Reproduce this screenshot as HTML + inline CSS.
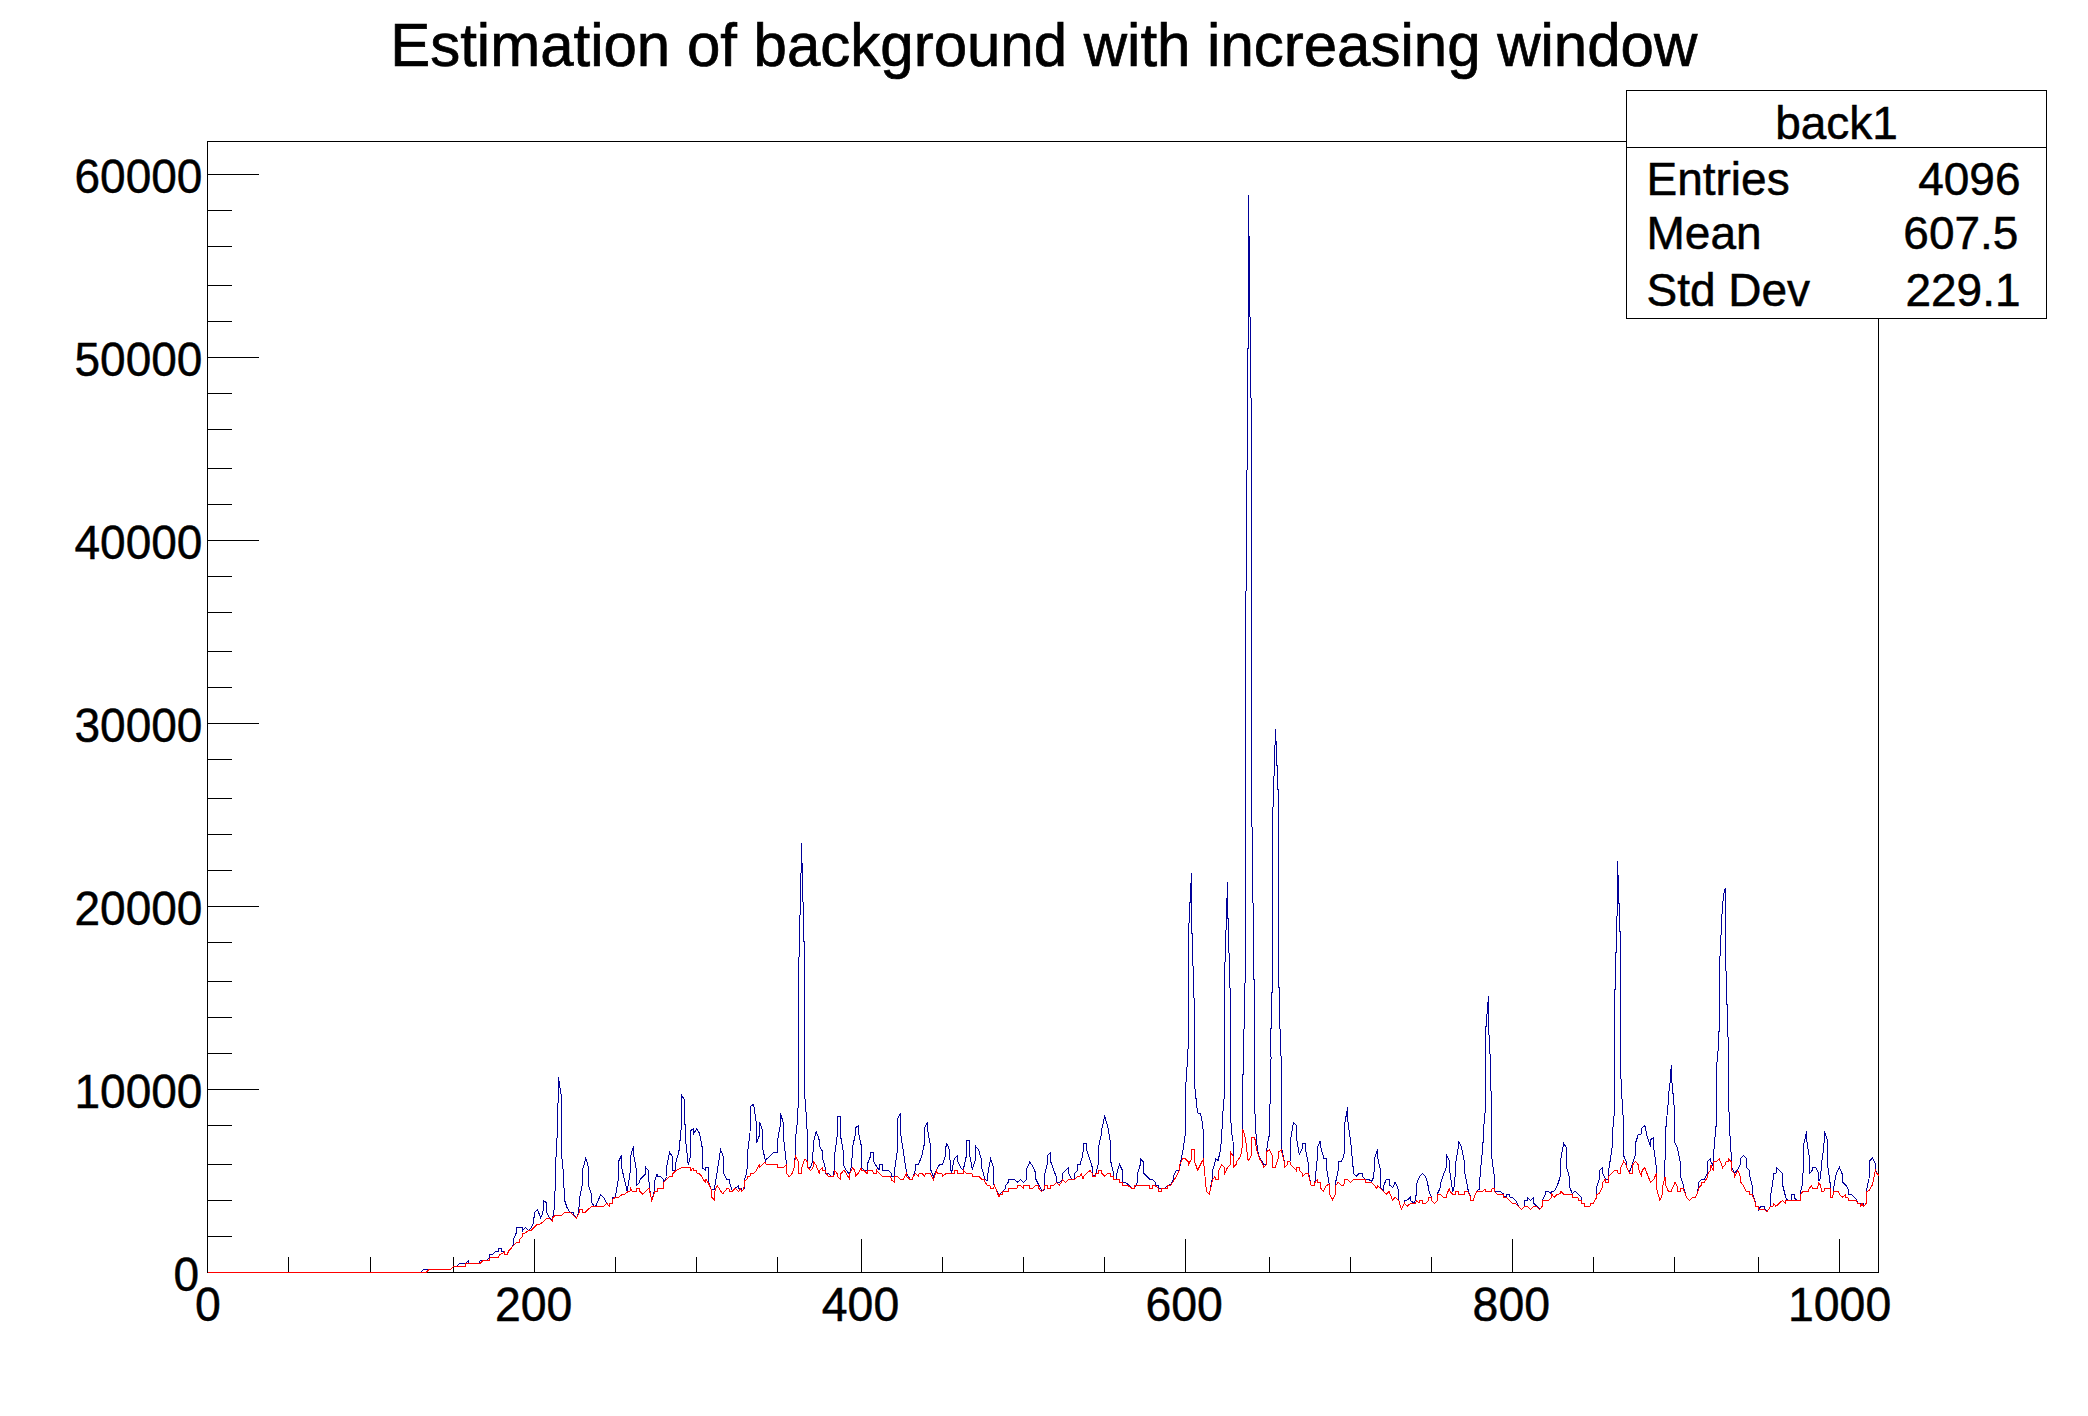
<!DOCTYPE html>
<html lang="en"><head><meta charset="utf-8"><title>Estimation of background with increasing window</title>
<style>
html,body{margin:0;padding:0;background:#fff;}
body{width:2088px;height:1416px;overflow:hidden;}
svg{display:block;font-family:"Liberation Sans",Arial,Helvetica,sans-serif;fill:#000;}
.ax{stroke:#000;stroke-width:1;fill:none;shape-rendering:crispEdges;}
text{stroke:#000;stroke-width:0.7px;}
.lbl{font-size:46.4px;stroke-width:0.45px;}
.st{font-size:46px;stroke-width:0.5px;}
</style></head><body>
<svg width="2088" height="1416" viewBox="0 0 2088 1416">
<rect x="0" y="0" width="2088" height="1416" fill="#fff"/>
<text transform="translate(1043.7,65.7) scale(1,1.03)" text-anchor="middle" font-size="60px" style="font-size:60px">Estimation of background with increasing window</text>
<rect class="ax" x="207.5" y="141.5" width="1671.0" height="1131.0"/>
<path class="ax" d="M207.5 1272.5V1239.0M288.5 1272.5V1257.0M370.5 1272.5V1257.0M453.5 1272.5V1257.0M534.5 1272.5V1239.0M615.5 1272.5V1257.0M696.5 1272.5V1257.0M777.5 1272.5V1257.0M861.5 1272.5V1239.0M942.5 1272.5V1257.0M1023.5 1272.5V1257.0M1104.5 1272.5V1257.0M1185.5 1272.5V1239.0M1269.5 1272.5V1257.0M1350.5 1272.5V1257.0M1431.5 1272.5V1257.0M1512.5 1272.5V1239.0M1593.5 1272.5V1257.0M1674.5 1272.5V1257.0M1758.5 1272.5V1257.0M1839.5 1272.5V1239.0"/>
<path class="ax" d="M207.5 174.5H259.0M207.5 210.5H232.0M207.5 246.5H232.0M207.5 285.5H232.0M207.5 321.5H232.0M207.5 357.5H259.0M207.5 393.5H232.0M207.5 429.5H232.0M207.5 468.5H232.0M207.5 504.5H232.0M207.5 540.5H259.0M207.5 576.5H232.0M207.5 612.5H232.0M207.5 651.5H232.0M207.5 687.5H232.0M207.5 723.5H259.0M207.5 759.5H232.0M207.5 798.5H232.0M207.5 834.5H232.0M207.5 870.5H232.0M207.5 906.5H259.0M207.5 942.5H232.0M207.5 981.5H232.0M207.5 1017.5H232.0M207.5 1053.5H232.0M207.5 1089.5H259.0M207.5 1125.5H232.0M207.5 1164.5H232.0M207.5 1200.5H232.0M207.5 1236.5H232.0M207.5 1272.5H259.0"/>
<text class="lbl" transform="translate(207.8,1321.2) scale(1,1.04)" text-anchor="middle">0</text>
<text class="lbl" transform="translate(533.7,1321.2) scale(1,1.04)" text-anchor="middle">200</text>
<text class="lbl" transform="translate(860.5,1321.2) scale(1,1.04)" text-anchor="middle">400</text>
<text class="lbl" transform="translate(1184.1,1321.2) scale(1,1.04)" text-anchor="middle">600</text>
<text class="lbl" transform="translate(1511.3,1321.2) scale(1,1.04)" text-anchor="middle">800</text>
<text class="lbl" transform="translate(1839.6,1321.2) scale(1,1.04)" text-anchor="middle">1000</text>
<text class="lbl" style="font-size:46px" transform="translate(199.2,1290.7) scale(1,1.04)" text-anchor="end">0</text>
<text class="lbl" style="font-size:46px" transform="translate(202.4,1107.7) scale(1,1.04)" text-anchor="end">10000</text>
<text class="lbl" style="font-size:46px" transform="translate(202.4,924.7) scale(1,1.04)" text-anchor="end">20000</text>
<text class="lbl" style="font-size:46px" transform="translate(202.4,741.7) scale(1,1.04)" text-anchor="end">30000</text>
<text class="lbl" style="font-size:46px" transform="translate(202.4,558.7) scale(1,1.04)" text-anchor="end">40000</text>
<text class="lbl" style="font-size:46px" transform="translate(202.4,375.7) scale(1,1.04)" text-anchor="end">50000</text>
<text class="lbl" style="font-size:46px" transform="translate(202.4,192.7) scale(1,1.04)" text-anchor="end">60000</text>
<polyline points="208,1272.2 400,1272.2 421,1272.2 423.3,1269.6 428.7,1269.6 450.5,1269.6 453.6,1266.7 456.7,1266.7 459.4,1263.5 465.3,1263.5 468.4,1260.4 468.7,1263.5 478.5,1263.5 480.5,1260.4 487,1260.4 489,1258.1 489.5,1254.7 492.4,1254.5 495.6,1251.6 498.2,1251.4 498.5,1248.5 501.3,1248.5 501.8,1251.4 504.1,1251.9 504.9,1254.2 507.2,1254.2 508.8,1250.8 513.4,1245.2 513.6,1238.7 516.2,1233.2 516.5,1227.5 522.4,1227.5 522.7,1230.6 525.4,1227.5 528.5,1230.6 531.3,1227.5 533.6,1223.1 534.4,1212.3 537.5,1209.5 540.6,1217.7 542.9,1213.8 543.4,1200.6 546.4,1202.6 546.8,1212.3 549.9,1218.5 552.3,1220 554.6,1206.1 555.8,1161 556.9,1140.8 557.7,1120.6 558.5,1077.1 560,1088 561.3,1095.7 561.9,1157.9 563.1,1170.3 564.7,1200.6 567,1207.6 570.1,1212.3 573.6,1212.6 574,1215.4 576.4,1218.2 578.7,1213 579.5,1198.3 582.6,1182.7 582.9,1168.8 585.7,1158.2 588.5,1167.2 588.8,1185.9 591.4,1194.4 591.9,1202.9 594.2,1206.4 595.8,1206.1 600.7,1194.4 604.3,1198.3 607.4,1204.5 609.4,1206.4 609.8,1203.7 612.1,1203.3 612.4,1197.5 615.2,1197.2 618.3,1179.6 618.8,1161 621.4,1155.6 621.9,1168.8 627.2,1191.3 630.7,1168.8 631,1154.8 633.5,1146.2 633.8,1155.6 636.2,1168.8 636.6,1185.5 639.3,1182.7 640.1,1179.6 645.2,1174.2 645.5,1167.2 648.3,1170.3 649.4,1188.2 651.7,1200.6 654.2,1191.3 654.5,1181.2 657.1,1174.2 657.6,1176.5 660.7,1176.5 663.7,1179.6 664.1,1182 666.5,1176.5 666.9,1165.7 669.6,1152.4 672.2,1156.3 672.7,1170.6 675.3,1170.6 675.8,1162.5 678.9,1151.7 681.2,1128.6 681.7,1095.2 684.8,1100.6 685.1,1134.8 687.9,1162 688.3,1165.1 690.5,1156.5 690.7,1130.9 693.3,1128.6 693.6,1134 696.7,1128.6 699.5,1133.2 702.6,1149.5 702.9,1168.2 705.4,1170.5 705.7,1167.4 708.5,1167.4 708.8,1182.2 711.2,1189.2 714.3,1189.9 717.4,1170.5 720.5,1149.5 723.6,1157.3 723.9,1173.6 726.7,1179.1 729.4,1179.4 729.8,1182.9 732.2,1190.7 735.3,1188.4 738.1,1185.7 738.7,1188.4 741.2,1188.9 741.8,1191 744.3,1188.4 744.6,1179.8 746.9,1172.1 747.7,1151.1 750,1133.2 750.3,1106.8 753.6,1104.2 756.2,1122.3 756.5,1143.3 759.3,1135.6 759.7,1122.3 762.4,1130.1 762.8,1148.8 765.6,1162 766,1159.6 774.1,1152.2 777.2,1152.2 777.7,1139.4 780.3,1125.5 780.6,1113 783.4,1123.9 783.9,1141 786.5,1164.3 786.8,1173.6 789.3,1176.7 792,1173.6 794.3,1167.4 795.2,1155.8 795.5,1139.4 797.4,1120.8 798.2,1103.7 798.2,1039.9 798.2,957.4 799.4,956.6 799.4,915.1 800.5,914.7 800.5,873.2 801.5,872.7 801.5,843.2 801.8,863.4 802.5,863.4 802.5,901.8 803.6,902.2 803.6,941.1 804.6,941.6 804.6,1039.9 804.9,1097.5 806.7,1120.8 807.5,1141 808,1167.4 810.6,1167.7 812.2,1162.7 812.9,1155 813.3,1143.3 816.1,1131.7 818.9,1137.9 819.5,1146.4 822.3,1151.1 823,1159.6 825.4,1168.2 825.8,1173.3 828.5,1173.6 831.6,1176.4 833.9,1176.4 834.4,1156.5 837,1137.9 837.5,1116.1 840.6,1116.1 840.9,1137.9 843.2,1151.1 843.7,1165.1 846.4,1170.5 849.5,1174.4 851.8,1165.1 852.3,1148.8 855.2,1134.8 855.7,1127.8 858.5,1125.5 858.8,1134 861.4,1146.4 861.9,1168.2 864.2,1170.2 867,1170.5 867.3,1164.3 870.4,1156.5 870.7,1152.2 873.5,1152.2 873.9,1162 879,1170.2 879.4,1164.3 882.4,1164.3 882.9,1170.5 888.3,1170.5 891.4,1173.3 891.9,1176.7 894.5,1176.4 895,1167.4 897.3,1151.1 897.6,1118.5 900.4,1113 900.7,1134 906.2,1170.5 906.6,1173.6 910.1,1179.1 912.4,1179.1 915.2,1170.5 915.5,1164.3 918.6,1164 921.7,1156.5 924.5,1143.3 924.8,1127.8 927.6,1122.3 927.9,1131.7 930.7,1146.4 931,1170.5 933.4,1176.7 936.5,1170.2 939.6,1164.3 942.7,1164 945.8,1155 946.1,1143.3 948.9,1147.2 951.2,1173.3 951.7,1172.1 954.3,1158.9 957.4,1155.8 957.9,1162 961,1168.2 963.3,1169.7 966.4,1155.8 966.7,1140.7 969.5,1140.7 969.8,1155.8 972.3,1169.4 975.4,1159.6 975.7,1146.4 978.8,1150.3 981.2,1158.9 981.6,1167.4 985.1,1179.8 987.4,1180.6 987.9,1173.6 990.5,1158.9 993.6,1167.7 993.9,1184.5 999,1194.6 1002.2,1192.3 1005.3,1188.4 1005.7,1185.3 1008.4,1182.2 1008.8,1179.5 1014.6,1179.5 1017.4,1182.2 1020.5,1179.4 1023.6,1182.5 1026.2,1179.5 1026.7,1169 1029.8,1162 1032.4,1165.9 1035.6,1172.8 1036,1179.5 1041.8,1190.7 1044.1,1189.9 1044.6,1174.4 1047.2,1164.3 1047.5,1155.4 1050.3,1152.6 1050.8,1162 1056.2,1176.7 1056.5,1182.5 1059.3,1182.5 1062.4,1179.4 1062.7,1173.6 1068.2,1167.7 1068.7,1173.6 1071.8,1179.1 1074.1,1179.1 1074.6,1173.6 1077.2,1170.5 1077.5,1164.3 1080.3,1164.3 1080.8,1161.2 1082.9,1155.8 1083.3,1143.3 1086.4,1143.3 1086.8,1150.3 1092.3,1167.4 1092.7,1175.2 1095.4,1175.2 1098.2,1164.3 1098.5,1147.2 1101.6,1133.2 1101.9,1128.6 1104.7,1116.4 1107.5,1125.5 1110.6,1143.3 1110.9,1162 1113.7,1173.6 1114,1179.1 1116.4,1179.1 1116.8,1173.6 1119.5,1164.3 1122.3,1170.2 1122.6,1182.2 1125.7,1182.5 1128.8,1185.3 1131.9,1188.4 1134.2,1188.4 1137.3,1182.5 1137.6,1173.3 1140.4,1164.3 1140.7,1158.9 1143.5,1162 1143.9,1173.6 1149.8,1179.4 1152.1,1179.4 1155.2,1182.2 1156,1185.3 1158.3,1185.6 1158.8,1188.4 1164.5,1188.4 1167.6,1185.6 1170.7,1184.5 1173.1,1179.8 1173.8,1175.2 1176.2,1170.5 1179.3,1170.2 1180.8,1161.2 1183.2,1148.8 1185.5,1132.4 1186,1082 1187.5,1060.2 1188.4,1039.9 1188.4,923.2 1189.3,922.8 1189.3,903 1190.4,902.7 1190.4,883.1 1191.3,882.8 1191.3,873.2 1191.6,882.8 1191.6,933.3 1192.6,934.1 1192.6,966 1193.5,966.4 1193.5,997.8 1194.6,998.3 1194.6,1039.9 1194.8,1087.4 1197.6,1113 1200.3,1113.3 1201.8,1119.2 1203.4,1131.7 1203.8,1158.9 1203.8,1164.3 1206.5,1191.5 1209.3,1194.3 1212.2,1179.4 1212.7,1170.5 1215.8,1158.9 1218.1,1160.4 1220.1,1151.9 1221.7,1137.9 1222.4,1119.2 1224,1099 1224.8,1094.4 1224.3,1039.9 1224.3,962.1 1225.4,961.8 1225.4,930.2 1226.4,929.8 1226.4,898.4 1227.4,898.1 1227.4,882.1 1227.7,898.1 1227.7,918.3 1228.5,918.6 1228.5,952.7 1229.6,953.5 1229.6,987.7 1230.5,988.5 1230.5,1039.9 1230.5,1116.1 1231.8,1133.2 1233,1141 1233.3,1155.8 1233.3,1167.4 1236.1,1164.3 1236.7,1161.2 1239.5,1158.1 1241.9,1151.9 1242.6,1128.6 1242.6,1075.7 1243.7,1072.6 1243.2,1040 1243.2,1029.2 1244.3,1028.8 1244.3,983.5 1245.4,983 1245.4,591.2 1246.3,590.8 1246.3,470.5 1247.3,470 1247.3,349.1 1248.4,348.7 1248.4,194.9 1248.5,236 1249.4,236.5 1249.4,316.8 1250.5,317.3 1250.5,397.8 1251.6,398.2 1251.6,826.8 1252.3,827.5 1252.3,902.2 1253.3,903 1253.3,978.8 1254.4,979.5 1254.4,1040 1255.1,1124.7 1256.6,1139.4 1257.4,1150.3 1259.7,1158.1 1262.8,1162 1263.6,1164.3 1266.2,1164.3 1266.4,1151.9 1268.3,1139.4 1269.8,1133.2 1270.3,1064.9 1271.1,1058.6 1270.1,1039.9 1270.1,1029.2 1271.2,1028.6 1271.2,993.1 1272.4,992.4 1272.4,830 1272.4,807.3 1273.4,807 1273.4,776.3 1274.3,775.8 1274.3,745.2 1275.4,744.9 1275.4,729.2 1275.7,741.3 1276.5,741.8 1276.5,765.1 1277.4,765.4 1277.4,789.1 1278.5,789.6 1278.5,830 1278.3,986.9 1279.4,987.4 1279.4,1028.9 1280.5,1029.3 1280.5,1039.9 1281.5,1071.1 1281.8,1148.8 1284.3,1161.2 1284.6,1167.4 1287.4,1164.8 1287.7,1161.7 1290,1161.7 1290.3,1141 1293.4,1122.3 1296.2,1125.1 1296.7,1139.4 1299.3,1154.7 1302,1149.5 1302.4,1143.3 1305.2,1143.3 1305.6,1149.5 1308.2,1162.7 1308.7,1173.3 1311,1185.3 1314.1,1185.6 1314.9,1182.5 1317.2,1159.6 1317.5,1147.2 1320.3,1140.7 1320.8,1147.2 1323.9,1158.4 1326.5,1158.9 1327,1170.5 1329.3,1184.5 1329.6,1193.8 1332.4,1199.7 1335.1,1194.6 1335.5,1182.9 1338.2,1170.5 1338.7,1161.7 1341.3,1161.7 1343.9,1155.8 1344.4,1150.3 1344.9,1122.3 1346.7,1113 1347.5,1107.1 1348,1122.3 1350.6,1141 1353.7,1173.6 1356.1,1176.4 1359.2,1173.3 1362.3,1173.3 1362.7,1176.4 1365.4,1179.4 1368.5,1179.4 1371.6,1181.4 1373.9,1176.7 1374.4,1158.4 1377.5,1149.5 1377.8,1158.4 1380.6,1170.5 1380.9,1188.4 1383.2,1190.7 1383.7,1185.3 1386.4,1179.5 1389.5,1179.5 1389.9,1185.3 1392.6,1187.6 1395.2,1182.2 1398,1188.4 1398.8,1200.5 1401.4,1209.4 1404.2,1203.9 1404.5,1200.5 1407.3,1200 1410.4,1197.2 1410.7,1200.5 1413.5,1203.1 1415.9,1200 1416.3,1184.5 1419.8,1176 1422.6,1173.3 1425.2,1176 1427.5,1182.2 1428.8,1190.7 1431.4,1196.9 1431.9,1200.8 1434.5,1203.5 1437.2,1200.8 1437.2,1194.3 1440,1188.4 1440.7,1182.5 1446.2,1167.4 1446.6,1155.3 1449.3,1160.4 1449.7,1170.5 1452.7,1191.5 1454.7,1185.3 1455.5,1164.3 1458.3,1147.2 1458.6,1140.7 1461.4,1147.2 1464.5,1162 1464.8,1173.3 1467.9,1188.4 1468.2,1191.5 1470.7,1196.9 1471,1200.5 1473.8,1200.5 1474.1,1197.2 1476.5,1191.5 1479.3,1189.2 1480.4,1170.5 1482.7,1148.8 1483.9,1125.5 1485.4,1108.4 1485.3,1039.9 1485.3,1026.6 1486.4,1026.1 1486.4,1014.1 1487.5,1013.7 1487.5,1002.2 1488.4,1001.7 1488.4,995.9 1488.7,1001.7 1488.7,1034.8 1489.7,1035.4 1489.7,1039.9 1490.1,1057.1 1490.9,1080.4 1491.7,1156.5 1494.3,1176.7 1494.8,1191.5 1500.2,1191.5 1503.3,1193.8 1503.6,1196.9 1506.4,1196.9 1506.7,1194.3 1509.5,1194.3 1509.8,1196.9 1512.6,1197.7 1515.7,1200.8 1518.8,1206.6 1521.6,1209.4 1524.3,1206.6 1524.6,1200.5 1527.4,1200.5 1527.9,1197.7 1530.5,1200.5 1533.6,1197.7 1533.9,1203.5 1536.7,1206.3 1539.8,1209.4 1542.2,1206.3 1542.6,1199.7 1545.6,1193.8 1546,1191.5 1548.4,1191.5 1551.5,1193.8 1551.8,1191.5 1554.3,1191 1557.4,1185.3 1560,1177.5 1560.8,1158.9 1563.6,1143.3 1566.2,1147.2 1566.7,1167.7 1569.3,1176.7 1569.8,1187.6 1572.4,1193.8 1575.2,1191 1581,1196.9 1581.5,1203.1 1584.1,1203.5 1584.6,1206.3 1590,1206.3 1590.6,1203.5 1593.4,1203.1 1596.5,1197.7 1596.5,1187.6 1599.3,1179.1 1599.6,1170.2 1602.4,1167.7 1602.7,1173.6 1605.5,1179.1 1608.2,1179.1 1608.7,1170.5 1612.1,1147.2 1612.8,1129.3 1614.4,1112.2 1614.3,1039.9 1614.3,990 1615.4,989.6 1615.4,953.1 1616.5,952.4 1616.5,916.2 1617.4,915.5 1617.4,861.1 1617.9,875.1 1618.5,875.4 1618.5,903 1619.6,903.5 1619.6,931 1620.7,931.8 1620.7,1039.9 1620.6,1070.3 1621.7,1094.4 1623.3,1119.2 1623.7,1155.8 1626.1,1161.2 1626.8,1167.4 1629.2,1172.8 1632.3,1164.3 1635.1,1155.8 1635.7,1142.5 1638.2,1134.8 1641.3,1134 1641.6,1128.6 1644.7,1125.1 1647.5,1137.9 1650.6,1146.4 1650.9,1139.4 1653.7,1137.6 1654,1149.5 1656.4,1167.4 1656.8,1173.3 1656.8,1189.2 1659.9,1200.5 1662.6,1193.8 1663,1185.3 1664.9,1176.7 1665.2,1136.3 1666.5,1120.8 1668,1105.3 1668.8,1092.8 1670.3,1080.4 1670.8,1071.1 1671.4,1064.9 1671.9,1082 1673.1,1094.4 1674.2,1106.8 1674.7,1142.5 1677.3,1148 1680.4,1162.7 1680.7,1176.7 1683.5,1185.3 1683.9,1188.4 1686.3,1196.9 1689.4,1200.5 1692.6,1197.7 1695.2,1197.2 1697.5,1193 1698.3,1187.6 1698.8,1182.2 1701.4,1179.4 1704.5,1179.1 1707.3,1173.6 1707.6,1161.2 1710.4,1158.4 1710.7,1161.2 1712.8,1165.9 1713.5,1155.8 1714.6,1141 1716.2,1124.7 1716.6,1066.4 1718.2,1049.3 1718.2,1039.9 1718.2,1032 1719.3,1031.5 1719.3,956.6 1720.4,955.9 1720.4,935.3 1721.5,934.9 1721.5,914.4 1722.6,913.9 1722.6,901.5 1723.5,900.7 1723.5,895.3 1724.4,891.4 1725.4,888.3 1725.5,970.6 1726.5,971.4 1726.5,1004 1727.6,1004.5 1727.6,1036.7 1728.6,1037.4 1728.6,1039.9 1729.1,1127.8 1730.5,1141 1731.7,1167.4 1734.8,1173.3 1737.9,1169 1740.3,1164.3 1740.7,1158.4 1743.4,1155.3 1746.2,1158.4 1746.5,1167.4 1749.3,1170.5 1749.6,1175.2 1752.4,1186.1 1752.7,1194.3 1755.5,1203.1 1755.8,1206.3 1758.3,1206.6 1758.6,1209.4 1759,1208.6 1761,1206.6 1764.5,1206.6 1764.9,1209.4 1767.2,1211.7 1770.3,1206.6 1770.6,1195.4 1772.9,1182.2 1773.4,1173.3 1776,1173.3 1776.5,1167.4 1782.3,1173.3 1782.7,1185.3 1785.8,1197.7 1787.4,1200 1791,1200.5 1791.3,1194.3 1794.1,1194.3 1794.4,1197.7 1796.7,1200 1800.3,1200.5 1800.3,1193.8 1802.9,1181.4 1803.4,1146.4 1806,1134 1806.5,1131.4 1806.8,1140.7 1809.1,1155.8 1809.5,1173.3 1812.2,1170.5 1812.6,1167.7 1815.4,1167.4 1817.4,1170.5 1818.5,1173.6 1818.9,1181.4 1820.8,1176.7 1821.3,1164.3 1823.9,1147.2 1824.4,1131.4 1827,1138.7 1827.5,1164.3 1830.4,1185.3 1830.6,1188.4 1830.4,1197.2 1832.9,1197.2 1833.2,1190.7 1835.6,1176.7 1837.1,1171.3 1839.4,1167.4 1842.2,1173.9 1842.5,1182.2 1846.4,1186.1 1848,1189.2 1848.5,1194.3 1851.1,1194.3 1856.8,1200 1857.3,1203.1 1860,1203.5 1860.4,1203.9 1863.1,1203.5 1863.5,1206.3 1866.2,1203.5 1866.3,1190.7 1869,1179.1 1869.4,1161.2 1872.4,1158.1 1875.2,1163.5 1875.6,1170.5 1876.7,1173.3 1878.8,1175.2" fill="none" stroke="#000099" stroke-width="1" shape-rendering="crispEdges"/>
<polyline points="208,1272.2 400,1272.2 426.4,1272.2 428.7,1269.6 450.5,1269.6 453.6,1266.7 465.3,1266.7 466,1263.5 480,1263.5 483.1,1260.4 489.3,1260.4 490.1,1257.6 498.2,1257.6 499.4,1254.7 503.3,1252.7 504.4,1251.9 504.9,1254.2 507.2,1254.2 508.8,1250.8 514.2,1244.9 516.5,1242.6 519.2,1242.1 520,1238.7 522,1237.1 522.7,1233.7 525.1,1233.2 528.2,1230.6 531.3,1230.4 536.7,1224.7 540.6,1223.9 546.8,1218.5 549.2,1218.2 552.3,1221.3 552.7,1217.7 555.4,1215.4 561.6,1215.4 564.7,1212.6 570.9,1212.6 576.4,1218.5 579.5,1212.3 579.8,1209.5 582.1,1209.5 582.6,1212.6 584.9,1212.6 591.4,1206.4 603.5,1206.4 606.7,1203.3 609.4,1206.4 609.8,1203.7 612.1,1203.3 612.9,1199.1 615.2,1197.5 618.3,1197.5 621.9,1194.7 624.5,1194.4 627.6,1191.8 630,1191.3 630.7,1188.7 632.3,1191.3 636.2,1191.3 636.6,1188.5 639.3,1188.5 639.7,1191.3 642.7,1194.4 649.1,1188.2 651.7,1200.6 654.8,1191.3 657.1,1191.3 657.9,1188.7 663.4,1188.3 663.7,1182.3 669.6,1176.5 672.2,1176.2 673,1173.4 675.8,1170.6 681.7,1167.7 690.2,1167.7 691,1170.5 693,1167.7 693.6,1170.5 696.4,1170.8 697.2,1173.6 699.5,1173.9 701.9,1176.4 703.4,1179.8 705.7,1182.2 706,1179.5 708.1,1182.6 711.2,1189.2 711.6,1196.9 714.6,1200 715.1,1189.2 717.4,1185.7 720.5,1190.7 722.8,1193.8 726.7,1188.9 729,1188.9 729.8,1191.5 732.2,1191.5 735.3,1188.4 738.4,1191.5 740.7,1188.9 741.5,1191.5 743.8,1189.2 744.6,1180.6 746.9,1179.5 747.7,1176.7 750,1176.4 750.8,1173.6 753.9,1173.3 756.2,1170.5 759.3,1165.1 759.8,1167.4 762.4,1164.3 765.1,1162 766,1164.3 777.2,1164.3 777.7,1167.4 783.4,1167.4 786.5,1164.3 786.8,1173.6 789.3,1176.7 792,1173.6 794.3,1167.4 795.5,1155.8 798.2,1161.2 798.7,1173.6 801.3,1173.6 801.8,1167.4 804.9,1158.9 807.5,1162 808,1167.4 810.6,1170.5 812.9,1168.2 813.7,1162 816.1,1165.1 819.2,1173.6 819.6,1170.5 822.3,1167.7 823,1170.5 825.4,1170.5 826.2,1173.3 828.5,1176.4 833.9,1176.4 834.4,1170.5 837,1173.3 837.5,1176.7 840.6,1179.5 840.9,1173.6 844,1170.2 846.4,1173.6 849.5,1179.1 849.9,1173.6 852.6,1167.7 854.9,1170.5 855.4,1176.4 858,1173.6 861.1,1168.2 861.9,1170.5 864.2,1170.8 867,1173.6 867.3,1170.5 872.8,1170.5 873.2,1173.3 876.3,1173.3 876.7,1170.5 879,1173.3 882.6,1176.4 890.6,1176.4 891.4,1179.8 894.5,1182.5 895,1176.4 897.2,1176.4 900.7,1179.5 903.1,1179.4 906.2,1173.6 906.6,1176.4 910.1,1179.5 912.4,1179.4 913.2,1176.4 915.5,1173.6 918.6,1176.4 919.1,1173.6 921.7,1173.3 924.8,1176.4 925.3,1173.3 930.3,1173.3 933.4,1179.5 936.5,1170.5 937.2,1173.3 941.9,1173.6 942.7,1176.4 945.8,1173.6 954.3,1173.3 954.8,1170.5 957.4,1170.5 957.9,1173.3 963.3,1173.3 963.8,1170.5 966.4,1173.3 971.9,1173.6 972.6,1176.4 978.8,1176.4 982,1179.4 984.3,1179.5 985.1,1182.5 987.4,1185.3 990,1185.6 990.5,1188.4 993.6,1188.4 994.4,1185.3 999,1196.9 999.8,1194.6 1002.2,1194.6 1002.9,1191.5 1008.4,1191.5 1008.8,1188.4 1016.9,1188.4 1017.7,1185.6 1020.5,1185.6 1023.6,1188.4 1023.9,1185.6 1029.3,1185.6 1029.8,1188.4 1032.4,1188.4 1035.6,1185.6 1038.2,1185.6 1038.7,1188.4 1041.8,1191.5 1044.4,1188.4 1044.9,1185.6 1047.2,1185.6 1047.7,1188.4 1050.3,1188.4 1050.8,1185.6 1053.4,1185.3 1056.5,1182.5 1059.3,1185.6 1062.7,1179.8 1065.5,1182.5 1068.7,1179.5 1074.4,1179.4 1077.5,1176.4 1079.8,1176.4 1081.1,1173.6 1083.3,1179.4 1083.7,1176.4 1089.9,1170.5 1092.3,1173.3 1092.7,1176.4 1095.4,1176.4 1095.8,1173.3 1098.2,1173.3 1098.5,1170.5 1101.3,1170.5 1101.6,1173.3 1104.7,1176.4 1107.8,1173.3 1110.1,1173.3 1110.6,1176.4 1113.2,1176.4 1113.7,1179.4 1119,1179.4 1119.5,1182.2 1122.1,1182.5 1122.6,1185.3 1128,1185.6 1131.9,1188.4 1134.2,1188.4 1135,1185.3 1149,1185.3 1149.4,1188.4 1152.4,1188.4 1152.9,1185.3 1155.2,1185.6 1158.3,1188.4 1158.8,1191.5 1161.4,1191.5 1161.9,1188.4 1167.2,1188.4 1167.6,1185.6 1170.7,1185.3 1176.2,1176.7 1179.3,1170.5 1179.7,1164.3 1182.7,1158.9 1185.5,1158.9 1188.3,1162 1188.6,1164.3 1191.4,1158.9 1191.7,1149.5 1194.5,1149.5 1194.8,1162 1197.6,1170.2 1203.4,1158.9 1203.8,1164.3 1206.5,1191.5 1209.3,1194.3 1212.7,1179.4 1215,1176.7 1215.5,1179.4 1218.1,1179.4 1218.9,1170.5 1221.7,1164.8 1224.3,1167.4 1224.8,1173.3 1227.4,1167.7 1230.2,1164.8 1230.7,1152.6 1233,1155.8 1233.3,1167.4 1236.1,1164.3 1236.7,1161.2 1239.5,1158.1 1241.9,1151.9 1242.6,1128.6 1245.4,1137.9 1248.1,1161.2 1251.2,1155.8 1251.6,1137.6 1254.7,1137.6 1256.6,1149.5 1259.7,1158.9 1262.8,1164.3 1263.6,1167.4 1266.2,1164.8 1266.7,1151.9 1269.4,1149.5 1272.2,1155 1272.6,1167.4 1275.3,1167.4 1278.4,1158.1 1278.7,1151.9 1281.2,1150 1284.3,1162 1284.6,1167.4 1287.4,1164.8 1287.7,1161.7 1290,1161.7 1290.8,1164.8 1296.2,1170.5 1296.7,1167.7 1299.3,1167.7 1299.8,1170.5 1302.4,1173.3 1302.9,1176.4 1305.6,1173.6 1308.2,1173.3 1311,1185.3 1314.1,1185.6 1314.9,1182.5 1317.2,1179.8 1317.7,1182.2 1320.3,1182.5 1320.8,1188.4 1323.4,1191.5 1326.5,1185.3 1329.3,1184.5 1329.6,1193.8 1332.4,1199.7 1335.1,1194.6 1335.5,1185.3 1338.2,1182.5 1341.3,1185.3 1343.9,1185.3 1344.4,1179.5 1347.5,1179.5 1350.6,1182.5 1353.7,1179.5 1365.1,1179.5 1365.7,1182.5 1371.6,1182.5 1377,1188.4 1377.5,1185.6 1386.4,1194.3 1389,1191.5 1392.6,1200 1395.2,1197.2 1398.8,1200.5 1401.4,1209.4 1404.5,1203.1 1407,1206.3 1410.4,1203.5 1415.9,1203.1 1416.3,1200.8 1419,1203.1 1419.4,1200.5 1422.1,1200.5 1422.6,1203.1 1425.2,1203.5 1428.3,1200.5 1428.8,1197.7 1431.4,1197.7 1431.9,1200.8 1434.5,1203.5 1437.2,1200.8 1437.6,1194.6 1440.4,1194.3 1443.1,1197.2 1446.2,1197.2 1446.6,1194.6 1449.3,1188.7 1450.1,1191.5 1452.7,1194.3 1455.5,1194.3 1456,1191.5 1458.3,1191.5 1458.6,1194.3 1464.5,1194.3 1464.8,1191.5 1467.6,1191.5 1470.7,1196.9 1471,1200.5 1473.8,1200.5 1474.1,1197.2 1476.5,1191.5 1482.7,1191.5 1485,1188.7 1485.4,1191.5 1491.7,1191.5 1492.1,1188.7 1494.3,1188.7 1494.8,1191.5 1497.1,1194.3 1503,1194.3 1503.6,1197.2 1506.4,1197.2 1512.6,1203.5 1515.7,1203.5 1521.6,1209.4 1524.3,1206.6 1527.4,1206.6 1530.5,1209.4 1533.6,1206.6 1536.2,1206.6 1539.8,1209.4 1542.2,1206.3 1542.6,1200.5 1548.4,1200.5 1551.5,1197.7 1551.8,1194.3 1554.3,1197.2 1557.4,1194.3 1560.5,1193.8 1560.8,1191.5 1563.9,1194.3 1572,1194.3 1572.4,1197.2 1577.9,1197.2 1578.4,1200.5 1581,1200.5 1581.5,1203.1 1584.1,1203.5 1584.6,1206.3 1590,1206.3 1590.6,1203.5 1593.4,1203.1 1596.5,1197.7 1596.8,1194.3 1599.3,1193.8 1602,1188.4 1602.7,1182.5 1605.1,1179.4 1605.5,1182.2 1608.2,1182.2 1608.7,1176.4 1614.4,1170.5 1617.5,1170.5 1618,1173.3 1620.3,1173.3 1620.8,1167.4 1623.7,1161.2 1626.1,1164.8 1626.8,1167.4 1629.5,1173.3 1632.3,1173.3 1632.7,1164.8 1635.4,1161.2 1638.2,1164.8 1638.5,1169 1641.6,1176.4 1642.1,1170.5 1644.7,1167.7 1650.6,1182.5 1653.7,1179.4 1656.4,1173.6 1656.8,1189.2 1659.9,1200.5 1662.6,1193.8 1663,1185.3 1665.2,1176.7 1665.7,1185.3 1668.5,1191.5 1671.1,1191.5 1675,1182.5 1677,1186.1 1677.3,1191.5 1680.4,1191.5 1680.7,1188.4 1683.2,1188.4 1686.3,1196.9 1689.4,1200.5 1692.6,1197.7 1695.2,1197.2 1697.5,1193 1699.1,1187.6 1701.4,1185.3 1701.9,1182.5 1704.5,1182.2 1707.6,1176.7 1708.1,1173.3 1710.4,1170.2 1710.7,1164.8 1713.1,1170.5 1713.5,1162 1716.2,1161.7 1719.3,1158.9 1722.7,1167.7 1725.5,1164.3 1726,1161.7 1728.3,1161.7 1728.6,1158.9 1731.4,1161.7 1731.7,1170.5 1734.5,1173.3 1734.8,1176.4 1737.9,1170.5 1740.3,1176.4 1740.7,1182.2 1743.4,1185.6 1746.2,1191 1749,1191.5 1749.6,1194.3 1752.1,1194.3 1755.5,1203.1 1755.8,1206.3 1758.3,1206.6 1758.6,1209.4 1764.1,1209.4 1767.2,1211.7 1770.3,1206.6 1772.9,1206.3 1773.4,1203.5 1776,1206.3 1782.3,1200.5 1785.1,1203.1 1785.5,1200.5 1800.3,1200.5 1800.6,1194.3 1802.9,1191.5 1808.4,1191.5 1809.1,1188.4 1811.8,1185.6 1812.2,1188.4 1817.7,1188.4 1818.5,1182.5 1820.8,1185.3 1821.3,1191.5 1823.9,1191.5 1824.4,1188.4 1830.1,1188.4 1830.4,1197.2 1832.9,1197.2 1833.2,1191.5 1838.7,1191.5 1839.4,1194.3 1842.5,1197.2 1845.3,1194.6 1845.7,1197.2 1848,1197.7 1848.5,1200.5 1856.5,1200.5 1857.3,1203.1 1860,1203.5 1860.4,1206.6 1862,1203.5 1863.5,1206.3 1866.2,1203.5 1866.6,1191.5 1869.3,1190.7 1872.1,1185.3 1873.6,1179.8 1874.4,1173.6 1875.5,1170.5 1876.7,1173.3 1878.8,1175.2" fill="none" stroke="#ff0000" stroke-width="1" shape-rendering="crispEdges"/>
<rect class="ax" x="1626.5" y="90.5" width="420" height="228" fill="#fff" style="fill:#fff"/>
<path class="ax" d="M1626.5 147.5H2046.5"/>
<text class="st" transform="translate(1836.5,138.6) scale(1,1.02)" text-anchor="middle">back1</text>
<text class="st" transform="translate(1646.5,195.2) scale(1,1.02)">Entries</text><text class="st" transform="translate(2020.5,195.2) scale(1,1.02)" text-anchor="end">4096</text>
<text class="st" transform="translate(1646.5,249.3) scale(1,1.02)">Mean</text><text class="st" transform="translate(2018.4,249.3) scale(1,1.02)" text-anchor="end">607.5</text>
<text class="st" transform="translate(1646.5,305.9) scale(1,1.02)">Std Dev</text><text class="st" transform="translate(2020.5,305.9) scale(1,1.02)" text-anchor="end">229.1</text>
</svg>
</body></html>
